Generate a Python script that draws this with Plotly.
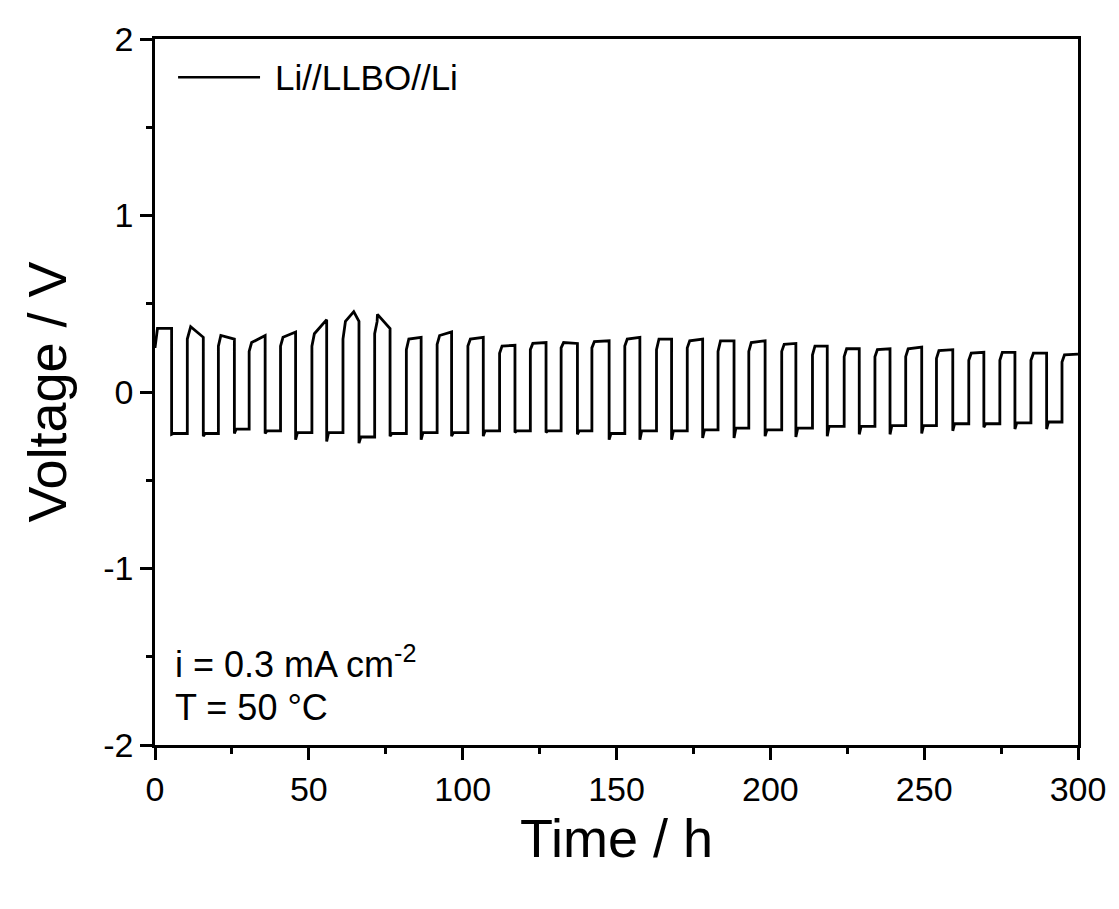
import plotly.graph_objects as go

# cycle timing (hours)
rise_h = [0.0, 10.5, 20.6, 30.6, 40.8, 51.0, 61.1, 71.4, 81.7, 91.7,
          101.7, 112.0, 122.0, 132.0, 142.0, 152.7, 163.0, 173.0, 183.0, 193.0,
          203.7, 213.7, 224.0, 234.0, 244.0, 254.0, 264.5, 274.6, 284.7, 294.8]
fall_h = [5.4, 15.7, 25.8, 35.8, 45.7, 55.8, 66.3, 76.4, 86.5, 96.4,
          106.7, 117.0, 127.1, 137.3, 147.6, 157.6, 167.9, 178.0, 188.2, 198.3,
          208.3, 218.5, 228.9, 238.9, 249.2, 259.3, 269.4, 279.5, 289.8, 300.0]

# positive half-cycle voltages (V)
pos_low = [0.25, 0.30, 0.26, 0.23, 0.26, 0.26, 0.30, 0.33, 0.24, 0.27,
           0.26, 0.22, 0.24, 0.25, 0.25, 0.26, 0.24, 0.25, 0.23, 0.23,
           0.23, 0.21, 0.20, 0.20, 0.20, 0.19, 0.18, 0.18, 0.18, 0.17]
pos_mid = [0.36, 0.36, 0.32, 0.28, 0.31, 0.33, 0.40, 0.40, 0.30, 0.32,
           0.30, 0.26, 0.275, 0.28, 0.285, 0.30, 0.30, 0.29, 0.29, 0.28,
           0.27, 0.26, 0.245, 0.24, 0.245, 0.235, 0.22, 0.225, 0.22, 0.21]
pos_end = [0.36, 0.31, 0.30, 0.32, 0.34, 0.41, 0.40, 0.36, 0.31, 0.34,
           0.31, 0.265, 0.28, 0.275, 0.29, 0.31, 0.30, 0.30, 0.29, 0.29,
           0.275, 0.26, 0.245, 0.245, 0.255, 0.24, 0.225, 0.225, 0.22, 0.215]

# negative half-cycle voltages (V)
neg_dip = [-0.24, -0.25, -0.235, -0.235, -0.27, -0.28, -0.29, -0.25, -0.27, -0.25,
           -0.25, -0.23, -0.23, -0.24, -0.27, -0.27, -0.27, -0.26, -0.26, -0.25,
           -0.255, -0.25, -0.24, -0.24, -0.235, -0.22, -0.20, -0.21, -0.21]
neg_end = [-0.235, -0.235, -0.21, -0.22, -0.23, -0.23, -0.255, -0.235, -0.23, -0.23,
           -0.22, -0.22, -0.22, -0.22, -0.235, -0.22, -0.22, -0.215, -0.205, -0.215,
           -0.205, -0.195, -0.195, -0.19, -0.19, -0.18, -0.18, -0.175, -0.17]

# spikes on the early cycles
spike_t = [11.0, 11.6, 64.6, 72.3]
spike_v = [0.51, 0.37, 0.455, 0.44]

x_ticks = [0, 50, 100, 150, 200, 250, 300]
y_ticks = [-2, -1, 0, 1, 2]
y_labels = ["-2", "-1", "0", "1", "2"]

# build the trace from the per-cycle readings
t, v = [], []
for k in range(len(rise_h)):
    t += [rise_h[k], rise_h[k] + 0.8]
    v += [pos_low[k], pos_mid[k]]
    for st, sv in zip(spike_t, spike_v):
        if rise_h[k] + 0.8 < st < fall_h[k]:
            t.append(st)
            v.append(sv)
    t.append(fall_h[k])
    v.append(pos_end[k])
    if k < len(neg_dip):
        t += [fall_h[k], fall_h[k] + 0.6, rise_h[k + 1]]
        v += [neg_dip[k], neg_end[k], neg_end[k]]

fig = go.Figure()
fig.add_trace(go.Scatter(x=t, y=v, mode="lines", line=dict(color="black", width=2.8),
                         showlegend=False))

font = "Liberation Sans, Arial, sans-serif"
axis = dict(showline=True, linecolor="black", linewidth=2.5, mirror=True,
            ticks="outside", ticklen=12, tickwidth=2.5, tickcolor="black",
            showgrid=False, zeroline=False,
            tickfont=dict(family=font, size=34, color="black"))

fig.update_xaxes(range=[0, 300], tickvals=x_ticks,
                 minor=dict(dtick=25, ticks="outside", ticklen=6, tickwidth=2.5, tickcolor="black"),
                 title=dict(text="Time / h", font=dict(family=font, size=54, color="black"), standoff=4),
                 **axis)
fig.update_yaxes(range=[-2, 2], tickvals=y_ticks, ticktext=y_labels,
                 minor=dict(dtick=0.5, ticks="outside", ticklen=6, tickwidth=2.5, tickcolor="black"),
                 title=dict(text="Voltage / V", font=dict(family=font, size=54, color="black"), standoff=20),
                 **axis)

# legend drawn by hand
fig.add_shape(type="line", xref="paper", yref="paper", x0=0.025, x1=0.1138, y0=0.9457, y1=0.9457,
              line=dict(color="black", width=2.5))
fig.add_annotation(xref="paper", yref="paper", x=0.128, y=0.9457, xanchor="left", yanchor="middle",
                   text="Li//LLBO//Li", showarrow=False, font=dict(family=font, size=35, color="black"))

fig.add_annotation(xref="paper", yref="paper", x=0.02, y=0.118, xanchor="left", yanchor="middle",
                   text="i = 0.3 mA cm<sup>-2</sup>", showarrow=False,
                   font=dict(family=font, size=36, color="black"))
fig.add_annotation(xref="paper", yref="paper", x=0.02, y=0.053, xanchor="left", yanchor="middle",
                   text="T = 50 °C", showarrow=False, font=dict(family=font, size=36, color="black"))

# the page body adds an 8px margin, so the figure is 8px smaller and shifted
fig.update_layout(width=1111, height=901, margin=dict(l=147, r=41, t=25, b=164),
                  plot_bgcolor="white", paper_bgcolor="white")

fig.write_html("out.html")
